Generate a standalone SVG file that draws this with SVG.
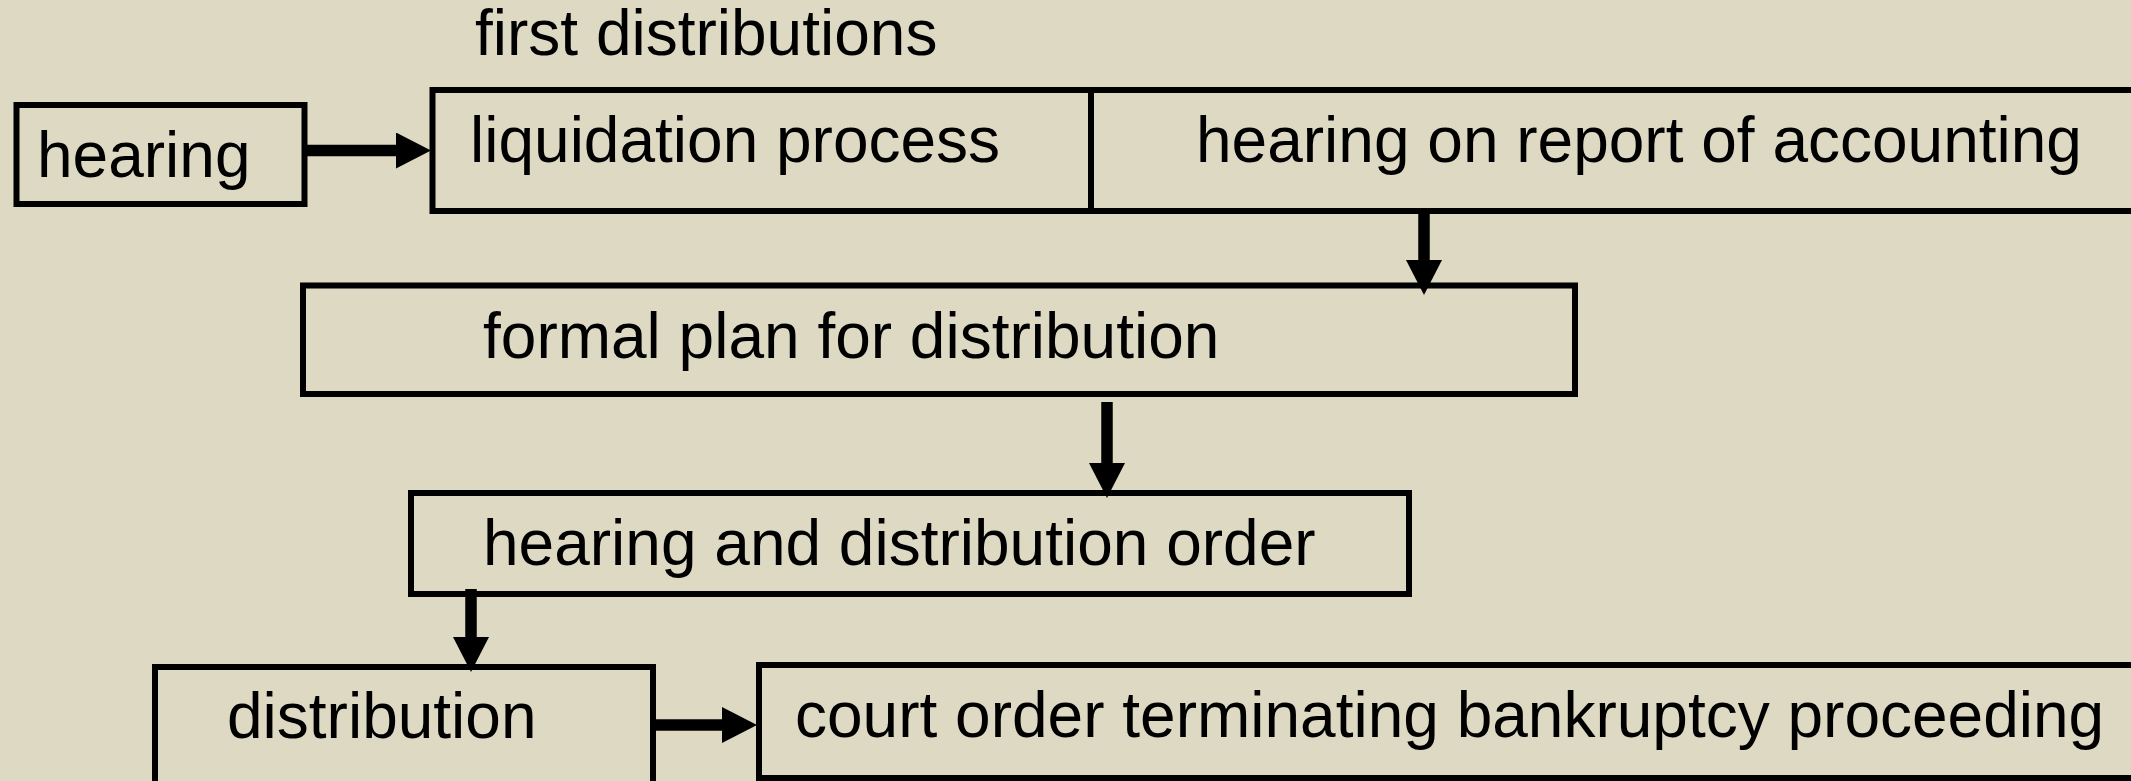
<svg xmlns="http://www.w3.org/2000/svg" width="2131" height="781" viewBox="0 0 2131 781">
<style>
.box{fill:none;stroke:#000;stroke-width:6}
.lbl{font-family:"Liberation Sans",Arial,sans-serif;font-size:64px;fill:#000}
.conn{stroke:#000;stroke-width:11.5;fill:none}
</style>
<defs>
<marker id="ah" markerUnits="userSpaceOnUse" markerWidth="36" markerHeight="36" refX="0" refY="18" orient="auto" viewBox="0 0 36 36">
<path d="M0,0 L35,18 L0,36 Z" fill="#000"/>
</marker>
</defs>
<rect width="2131" height="781" fill="#DDD9C3"/>
<g id="title"><text class="lbl" x="475" y="55">first distributions</text></g>
<g id="hearing">
<rect class="box" x="16.5" y="105" width="288" height="99" stroke-width="5.5"/>
<text class="lbl" x="37" y="177">hearing</text>
</g>
<g id="liquidation">
<rect class="box" x="432.5" y="90" width="658.5" height="121"/>
<text class="lbl" x="470" y="162">liquidation process</text>
</g>
<g id="accounting">
<rect class="box" x="1091" y="90" width="1060" height="121"/>
<text class="lbl" x="1196" y="162">hearing on report of accounting</text>
</g>
<g id="formal">
<rect class="box" x="303" y="285.5" width="1272" height="108.5"/>
<text class="lbl" x="483" y="358">formal plan for distribution</text>
</g>
<g id="order">
<rect class="box" x="411" y="493" width="998" height="101"/>
<text class="lbl" x="483" y="565">hearing and distribution order</text>
</g>
<g id="distribution">
<rect class="box" x="155" y="667" width="498" height="140"/>
<text class="lbl" x="227" y="738">distribution</text>
</g>
<g id="court">
<rect class="box" x="759" y="665" width="1400" height="113"/>
<text class="lbl" x="795" y="737">court order terminating bankruptcy proceeding</text>
</g>
<g id="connectors">
<line class="conn" x1="307" y1="150.5" x2="396" y2="150.5" marker-end="url(#ah)"/>
<line class="conn" x1="1424" y1="211" x2="1424" y2="260" marker-end="url(#ah)"/>
<line class="conn" x1="1107" y1="402" x2="1107" y2="463" marker-end="url(#ah)"/>
<line class="conn" x1="471" y1="589" x2="471" y2="637" marker-end="url(#ah)"/>
<line class="conn" x1="653" y1="725" x2="722" y2="725" marker-end="url(#ah)"/>
</g>
</svg>
